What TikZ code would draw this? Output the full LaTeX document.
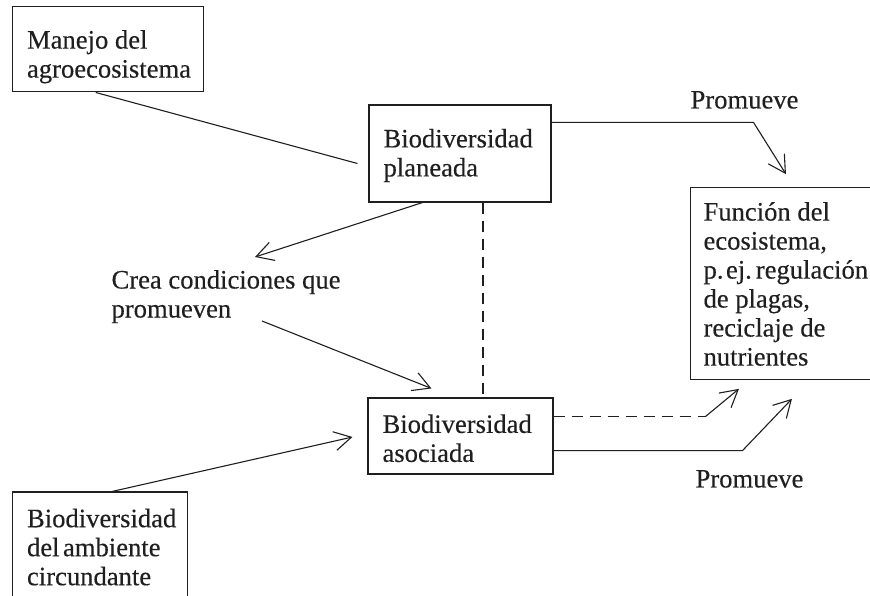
\documentclass[tikz,border=0pt]{standalone}
\usepackage{fontspec}
\setmainfont{Liberation Serif}[FakeBold=0.3]
\usetikzlibrary{arrows.meta,calc}
\definecolor{ink}{gray}{0.12}
\begin{document}
\begin{tikzpicture}[x=1pt,y=-1pt,line width=1.1pt,color=ink,
  bx/.style={draw,rectangle,inner sep=0pt},
  lbl/.style={anchor=north west,inner sep=0pt,align=left,font=\fontsize{26.6}{29}\selectfont},
  arr/.style={-{Straight Barb[length=17pt,width=19pt]}},
  dsh/.style={dash pattern=on 11pt off 7pt}]
\clip (0,0) rectangle (870,596);
% boxes
\node[bx,minimum width=190.7pt,minimum height=85.3pt] (man) at (107.7,49.3) {};
\node[bx,minimum width=182pt,minimum height=97pt] (plan) at (460,153.5) {};
\node[bx,minimum width=185pt,minimum height=76pt] (asoc) at (460.5,436) {};
\node[bx,minimum width=174.6pt,minimum height=118pt] (amb) at (100,551) {};
\node[bx,minimum width=209pt,minimum height=191.6pt] (func) at (795,283.5) {};
% texts
\node[lbl] (manT) at (26.5,29.6) {Manejo del\\agroecosistema};
\node[lbl] (planT) at (383,128.4) {Biodiversidad\\planeada};
\node[lbl] (asocT) at (382,413.9) {Biodiversidad\\asociada};
\node[lbl] (ambT) at (26.5,508.2) {Biodiversidad\\del\hspace{3.5pt}ambiente\\circundante};
\node[lbl] (funcT) at (703,201.5) {Función del\\ecosistema,\\p.\hspace{2.5pt}ej.\hspace{4pt}regulación\\de plagas,\\reciclaje de\\nutrientes};
\node[lbl] (creaT) at (111,269.5) {Crea condiciones que\\promueven};
\node[lbl] (prom1) at (690,90.5) {Promueve};
\node[lbl] (prom2) at (695,469.5) {Promueve};
% connectors
\draw ($(man.south west)+(84,0)$) -- ($(plan.west)+(-11,10)$);
\draw[arr] ($(plan.south west)+(54,0)$) -- ($(creaT.north west)+(144,-12.5)$);
\draw[arr] ($(creaT.north west)+(151,51.5)$) -- ($(asoc.north west)+(64,-9)$);
\draw[dsh] ($(plan.south)+(23,0)$) -- ($(asoc.north)+(22.5,0)$);
\draw[arr] ($(plan.north east)+(0,18)$) -- ++(202,0) -- ($(func.north west)+(96,-13)$);
\draw[dsh] ($(asoc.north east)+(0,19)$) -- ++(152,0) coordinate (d1);
\draw[arr] (d1) -- ($(func.south west)+(49,9)$);
\draw[arr] ($(asoc.south east)+(0,-24)$) -- ++(189,0) -- ($(func.south west)+(102,19)$);
\draw[arr] ($(amb.north west)+(100,0)$) -- ($(asoc.west)+(-15,1)$);
\end{tikzpicture}
\end{document}
